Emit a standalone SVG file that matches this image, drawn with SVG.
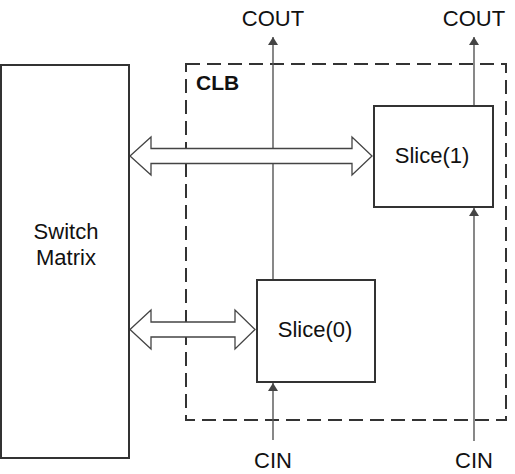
<svg xmlns="http://www.w3.org/2000/svg" width="515" height="474" viewBox="0 0 515 474">
<style>
.box{fill:#fff;stroke:#333;stroke-width:2}
.clb{fill:none;stroke:#333;stroke-width:2;stroke-dasharray:14,7}
.wire{stroke:#555;stroke-width:1.4;fill:none}
.dbl{fill:#fff;stroke:#444;stroke-width:1.3;stroke-linejoin:miter}
text{font-family:"Liberation Sans",Arial,sans-serif;font-size:22px;fill:#111}
.b{font-weight:bold;font-size:21px}
</style>
<defs>
<marker id="ah" markerWidth="8" markerHeight="12" refX="8" refY="6" orient="auto" markerUnits="userSpaceOnUse">
<path d="M0,1 L8,6 L0,11 Z" fill="#444"/>
</marker>
</defs>
<rect width="515" height="474" fill="#fff"/>
<g id="clb">
<rect class="clb" x="186" y="64" width="320" height="356"/>
<text class="b" x="196" y="90">CLB</text>
</g>
<g id="connectors">
<line class="wire" x1="273" y1="280" x2="273" y2="37" marker-end="url(#ah)"/>
<line class="wire" x1="474" y1="106" x2="474" y2="37" marker-end="url(#ah)"/>
<line class="wire" x1="273" y1="440" x2="273" y2="383" marker-end="url(#ah)"/>
<line class="wire" x1="474" y1="441" x2="474" y2="208" marker-end="url(#ah)"/>
<path class="dbl" d="M130,156 L151,137 L151,148.5 L352,148.5 L352,137 L372,156 L352,175 L352,163.5 L151,163.5 L151,175 Z"/>
<path class="dbl" d="M130,329.5 L151,310 L151,322 L235,322 L235,310 L255,329.5 L235,349 L235,337 L151,337 L151,349 Z"/>
</g>
<g id="switch">
<rect class="box" x="1" y="65" width="128" height="393"/>
<text x="66" y="239" text-anchor="middle">Switch</text>
<text x="66" y="265" text-anchor="middle">Matrix</text>
</g>
<g id="slice1">
<rect class="box" x="374" y="106" width="119" height="101"/>
<text x="432" y="163" text-anchor="middle">Slice(1)</text>
</g>
<g id="slice0">
<rect class="box" x="257" y="280" width="118" height="102"/>
<text x="315" y="337" text-anchor="middle">Slice(0)</text>
</g>
<g id="labels">
<text x="273" y="26" text-anchor="middle">COUT</text>
<text x="474" y="26" text-anchor="middle">COUT</text>
<text x="273" y="468" text-anchor="middle">CIN</text>
<text x="474" y="468" text-anchor="middle">CIN</text>
</g>
</svg>
